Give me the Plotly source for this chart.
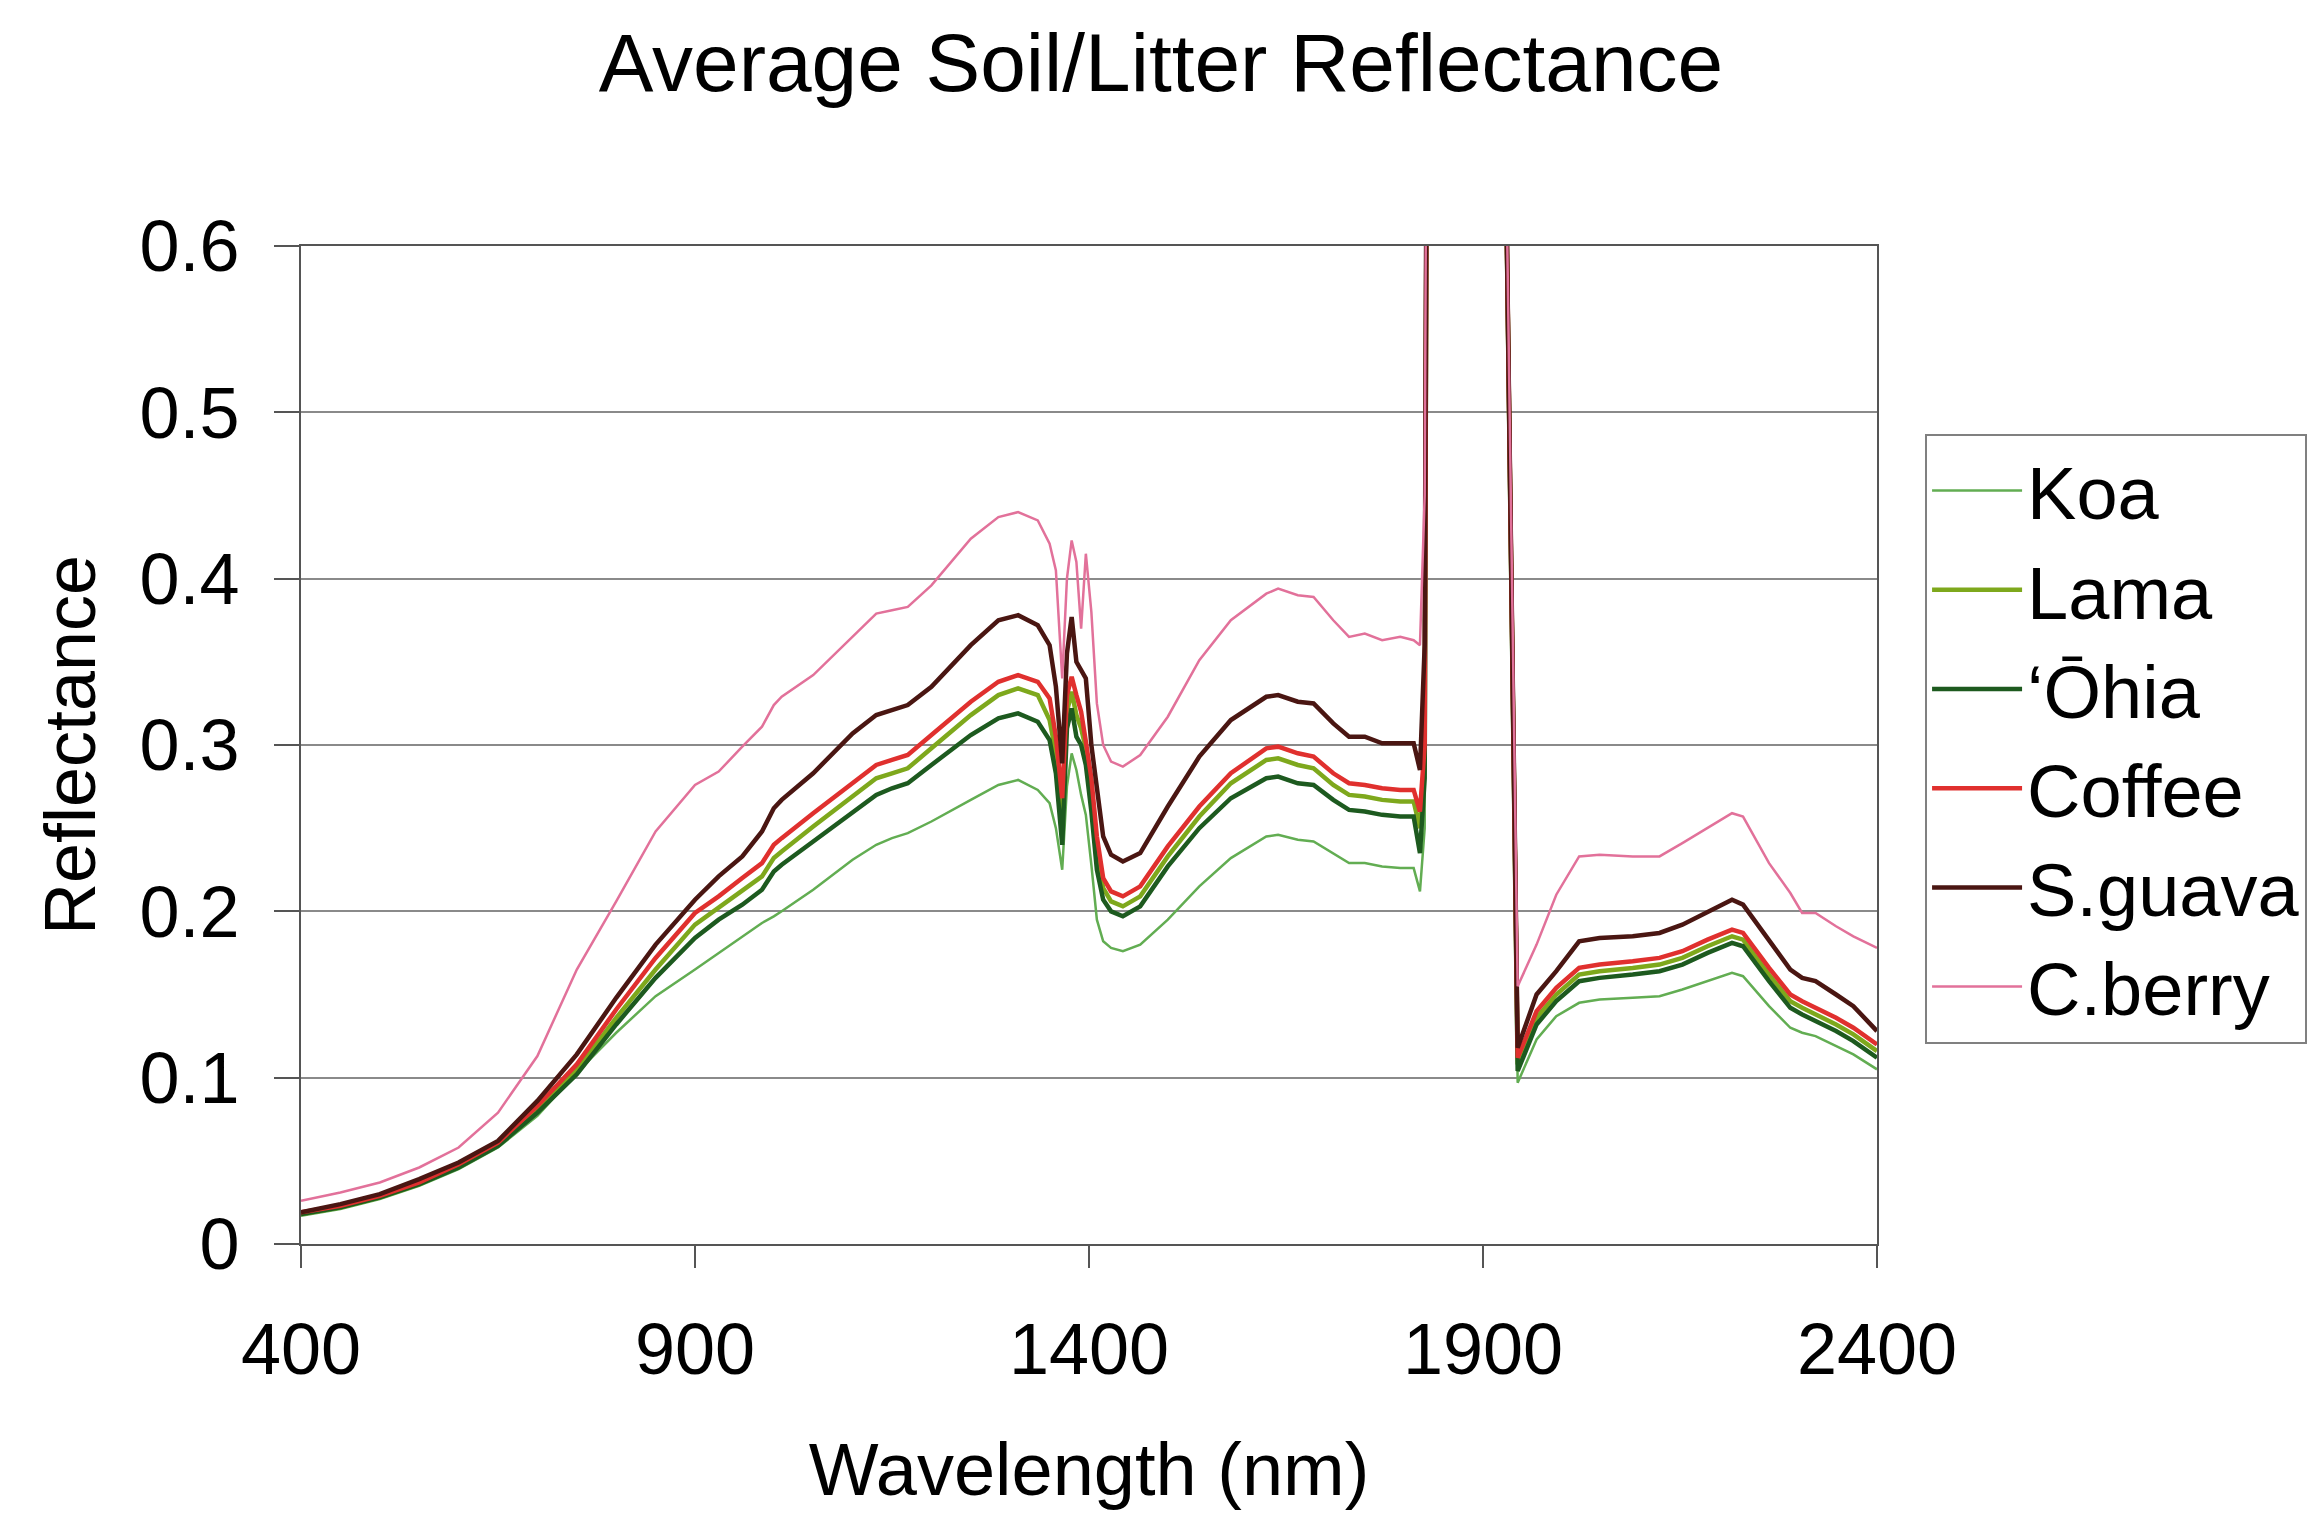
import plotly.graph_objects as go

wavelength = [400, 450, 500, 550, 600, 650, 700, 750, 800, 850, 900, 930, 960, 985, 1000, 1010,
              1050, 1100, 1130, 1150, 1170, 1200, 1250, 1285, 1310, 1335,
              1350, 1358, 1366, 1372, 1378, 1384, 1390, 1396, 1403, 1410, 1418, 1428, 1443, 1465,
              1500, 1540, 1580, 1625, 1640, 1665, 1685, 1710, 1730, 1750, 1772, 1795, 1812, 1820, 1826, 1830,
              1875,
              1922, 1944, 1968, 1993, 2022, 2048, 2090, 2124, 2153, 2185, 2216, 2230, 2263, 2290, 2305,
              2322, 2348, 2370, 2400]

koa = [0.017, 0.021, 0.027, 0.035, 0.045, 0.058, 0.077, 0.103, 0.127, 0.149, 0.165, 0.175, 0.185, 0.193, 0.197, 0.200,
       0.213, 0.231, 0.240, 0.244, 0.247, 0.254, 0.267, 0.276, 0.279, 0.273,
       0.265, 0.250, 0.225, 0.275, 0.295, 0.285, 0.270, 0.258, 0.228, 0.195, 0.182, 0.178, 0.176, 0.180,
       0.195, 0.215, 0.232, 0.245, 0.246, 0.243, 0.242, 0.235, 0.229, 0.229, 0.227, 0.226, 0.226, 0.212, 0.250, 0.900,
       None,
       0.900, 0.097, 0.123, 0.137, 0.145, 0.147, 0.148, 0.149, 0.153, 0.158, 0.163, 0.161, 0.143, 0.130, 0.127,
       0.125, 0.119, 0.114, 0.105]

lama = [0.018, 0.022, 0.028, 0.036, 0.047, 0.060, 0.081, 0.105, 0.136, 0.165, 0.192, 0.202, 0.212, 0.221, 0.232, 0.236,
        0.251, 0.269, 0.280, 0.283, 0.286, 0.298, 0.318, 0.330, 0.334, 0.330,
        0.315, 0.295, 0.255, 0.320, 0.332, 0.318, 0.310, 0.298, 0.270, 0.234, 0.214, 0.206, 0.203, 0.209,
        0.233, 0.257, 0.277, 0.291, 0.292, 0.288, 0.286, 0.276, 0.270, 0.269, 0.267, 0.266, 0.266, 0.250, 0.290, 0.900,
        None,
        0.900, 0.108, 0.136, 0.150, 0.162, 0.164, 0.166, 0.168, 0.172, 0.179, 0.185, 0.183, 0.162, 0.146, 0.142,
        0.138, 0.132, 0.126, 0.116]

ohia = [0.018, 0.022, 0.028, 0.036, 0.046, 0.059, 0.079, 0.102, 0.132, 0.160, 0.184, 0.195, 0.204, 0.213, 0.224, 0.228,
        0.242, 0.259, 0.270, 0.274, 0.277, 0.288, 0.306, 0.316, 0.319, 0.314,
        0.303, 0.283, 0.240, 0.310, 0.322, 0.305, 0.300, 0.288, 0.260, 0.225, 0.207, 0.200, 0.197, 0.203,
        0.227, 0.250, 0.268, 0.280, 0.281, 0.277, 0.276, 0.267, 0.261, 0.260, 0.258, 0.257, 0.257, 0.235, 0.280, 0.900,
        None,
        0.900, 0.104, 0.132, 0.146, 0.158, 0.160, 0.162, 0.164, 0.168, 0.175, 0.181, 0.179, 0.158, 0.142, 0.138,
        0.134, 0.128, 0.122, 0.112]

coffee = [0.019, 0.023, 0.029, 0.037, 0.048, 0.061, 0.083, 0.108, 0.141, 0.172, 0.199, 0.209, 0.220, 0.229, 0.240, 0.244,
          0.259, 0.277, 0.288, 0.291, 0.294, 0.306, 0.326, 0.338, 0.342, 0.338,
          0.328, 0.305, 0.268, 0.330, 0.341, 0.330, 0.320, 0.302, 0.280, 0.245, 0.220, 0.212, 0.209, 0.215,
          0.239, 0.263, 0.283, 0.298, 0.299, 0.295, 0.293, 0.283, 0.277, 0.276, 0.274, 0.273, 0.273, 0.260, 0.300, 0.900,
          None,
          0.900, 0.112, 0.140, 0.154, 0.166, 0.168, 0.170, 0.172, 0.176, 0.183, 0.189, 0.187, 0.166, 0.150, 0.146,
          0.142, 0.136, 0.130, 0.120]

sguava = [0.019, 0.024, 0.030, 0.039, 0.049, 0.062, 0.086, 0.114, 0.148, 0.180, 0.207, 0.221, 0.233, 0.248, 0.262, 0.267,
          0.283, 0.307, 0.318, 0.321, 0.324, 0.335, 0.360, 0.375, 0.378, 0.372,
          0.360, 0.335, 0.289, 0.355, 0.377, 0.350, 0.345, 0.340, 0.300, 0.275, 0.245, 0.234, 0.230, 0.235,
          0.263, 0.293, 0.315, 0.329, 0.330, 0.326, 0.325, 0.313, 0.305, 0.305, 0.301, 0.301, 0.301, 0.285, 0.360, 0.900,
          None,
          0.900, 0.118, 0.150, 0.164, 0.182, 0.184, 0.185, 0.187, 0.192, 0.200, 0.207, 0.204, 0.182, 0.165, 0.160,
          0.158, 0.150, 0.143, 0.128]

cberry = [0.026, 0.031, 0.037, 0.046, 0.058, 0.079, 0.113, 0.165, 0.206, 0.248, 0.276, 0.284, 0.299, 0.311, 0.324, 0.329,
          0.342, 0.365, 0.379, 0.381, 0.383, 0.396, 0.424, 0.437, 0.440, 0.435,
          0.421, 0.405, 0.340, 0.400, 0.423, 0.410, 0.370, 0.415, 0.380, 0.325, 0.300, 0.290, 0.287, 0.294,
          0.317, 0.351, 0.375, 0.391, 0.394, 0.390, 0.389, 0.375, 0.365, 0.367, 0.363, 0.365, 0.363, 0.360, 0.450, 0.900,
          None,
          0.900, 0.155, 0.180, 0.210, 0.233, 0.234, 0.233, 0.233, 0.241, 0.250, 0.259, 0.257, 0.229, 0.211, 0.199,
          0.199, 0.191, 0.185, 0.178]

series_names = ["Koa", "Lama", "\u2018\u014chia", "Coffee", "S.guava", "C.berry"]
series_values = [koa, lama, ohia, coffee, sguava, cberry]
series_colors = ["#62ad52", "#7ea81c", "#1d5a1f", "#e0302e", "#4a1612", "#e2719a"]
series_widths = [2.5, 4.5, 4.5, 4.5, 4.5, 2.5]

x_ticks = [400, 900, 1400, 1900, 2400]

fig = go.Figure()
for name, vals, col, w in zip(series_names, series_values, series_colors, series_widths):
    fig.add_trace(go.Scatter(x=wavelength, y=vals, mode="lines", name=name,
                             line=dict(color=col, width=w), connectgaps=False))

font_family = "Liberation Sans, Arial, sans-serif"
fig.update_layout(
    width=2322, height=1519,
    paper_bgcolor="white", plot_bgcolor="white",
    margin=dict(l=301, r=445, t=246, b=275),
    font=dict(family=font_family, size=72, color="black"),
    title=dict(text="Average Soil/Litter Reflectance", x=0.5, xanchor="center",
               y=1 - 62 / 1519, yanchor="middle", yref="container",
               font=dict(size=82, family=font_family, color="black")),
    showlegend=True,
    legend=dict(x=1.0305, y=0.8116, xanchor="left", yanchor="top",
                bordercolor="#808080", borderwidth=2, bgcolor="white",
                font=dict(size=74, family=font_family, color="black"),
                itemwidth=90, tracegroupgap=0),
)
fig.update_xaxes(range=[400, 2400], tickvals=x_ticks, showgrid=False,
                 showline=True, linecolor="#555555", linewidth=2, mirror=True,
                 ticks="outside", ticklen=22, tickcolor="#555555", tickwidth=2,
                 tickfont=dict(size=72), ticklabelstandoff=20,
                 title=dict(text="Wavelength (nm)", font=dict(size=74), standoff=55))
fig.update_yaxes(range=[0, 0.6], dtick=0.1, tick0=0, showgrid=True, gridcolor="#8a8a8a", gridwidth=2,
                 showline=True, linecolor="#555555", linewidth=2, mirror=True,
                 ticks="outside", ticklen=25, tickcolor="#555555", tickwidth=2,
                 tickfont=dict(size=72), ticklabelstandoff=20, zeroline=False,
                 title=dict(text="Reflectance", font=dict(size=72), standoff=20))

fig.write_html("out.html")
